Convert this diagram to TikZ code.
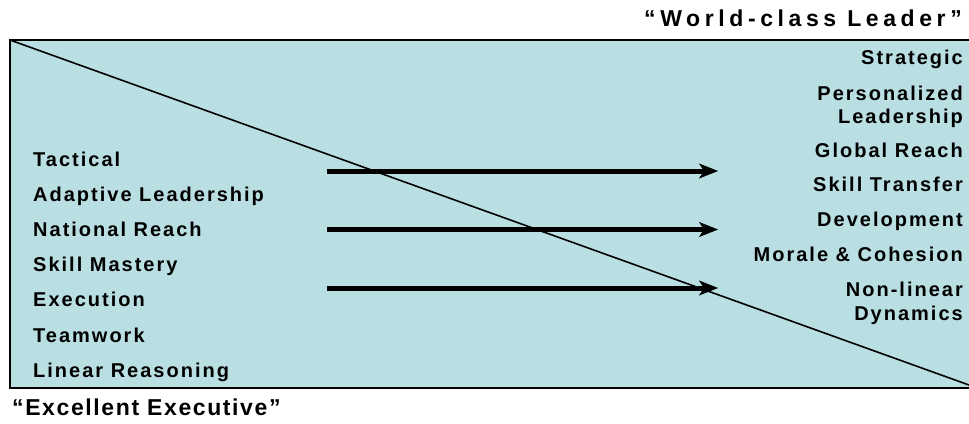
\documentclass[tikz,border=0pt]{standalone}
\usepackage{fontspec}
\setmainfont{Liberation Sans}
\newfontfamily\spacedfont[LetterSpace=10]{Liberation Sans}
\newfontfamily\titlefont[LetterSpace=20]{Liberation Sans}
\newfontfamily\subtitlefont[LetterSpace=7]{Liberation Sans}
\definecolor{panelcyan}{RGB}{185,223,227}
\usetikzlibrary{arrows.meta,positioning}

\begin{document}
\begin{tikzpicture}[x=1pt,y=-1pt,
    lbl/.style={anchor=base west, inner sep=0pt,
                font=\spacedfont\bfseries\fontsize{20}{24}\selectfont},
    rlbl/.style={anchor=base east, inner sep=0pt, align=right,
                 font=\spacedfont\bfseries\fontsize{20}{23.5}\selectfont},
    ttl/.style={inner sep=0pt,
                font=\titlefont\bfseries\fontsize{23}{28}\selectfont},
    arr/.style={line width=5pt,
                -{Stealth[length=19pt, width=15pt, inset=5pt, line width=0.5pt]}}
  ]
    \useasboundingbox (0,0) rectangle (969,423);

    % Panel with the diagonal split
    \coordinate (boxnw) at (10,40);
    \coordinate (boxse) at (969,385);
    \draw[line width=2.8pt, fill=panelcyan] (boxnw) rectangle (980,388);
    \draw[line width=1.6pt] (boxnw) -- (boxse);

    % Titles
    \node[ttl, anchor=base east] (leader) at (962,27) {“World-class Leader”};
    \node[ttl, anchor=base west, font=\subtitlefont\bfseries\fontsize{23}{28}\selectfont]
      (exec) at (12,415) {“Excellent Executive”};

    % Left column: executive traits
    \node[lbl] (tactical) at (33,166) {Tactical};
    \node[lbl] (adaptive) at (33,201) {Adaptive Leadership};
    \node[lbl] (national) at (33,236.5) {National Reach};
    \node[lbl] (mastery)  at (33,271.5) {Skill Mastery};
    \node[lbl] (execution) at (33,306.5) {Execution};
    \node[lbl] (teamwork) at (33,342) {Teamwork};
    \node[lbl] (linear)   at (33,377) {Linear Reasoning};

    % Right column: leader traits (base = last line)
    \node[rlbl] (strategic) at (963,64) {Strategic};
    \node[rlbl] (personal)  at (963,123.5) {Personalized\\Leadership};
    \node[rlbl] (global)    at (963,157.5) {Global Reach};
    \node[rlbl] (transfer)  at (963,191.5) {Skill Transfer};
    \node[rlbl] (develop)   at (963,226) {Development};
    \node[rlbl] (morale)    at (963,261.5) {Morale \& Cohesion};
    \node[rlbl] (nonlinear) at (963,320) {Non-linear\\Dynamics};

    % Transition arrows
    \coordinate (arrA) at (327,171);
    \coordinate (arrAend) at (718,171);
    \coordinate (arrB) at (327,229.5);
    \coordinate (arrBend) at (718,229.5);
    \coordinate (arrC) at (327,288);
    \coordinate (arrCend) at (718,288);
    \draw[arr] (arrA) -- (arrAend);
    \draw[arr] (arrB) -- (arrBend);
    \draw[arr] (arrC) -- (arrCend);
  \end{tikzpicture}
\end{document}
